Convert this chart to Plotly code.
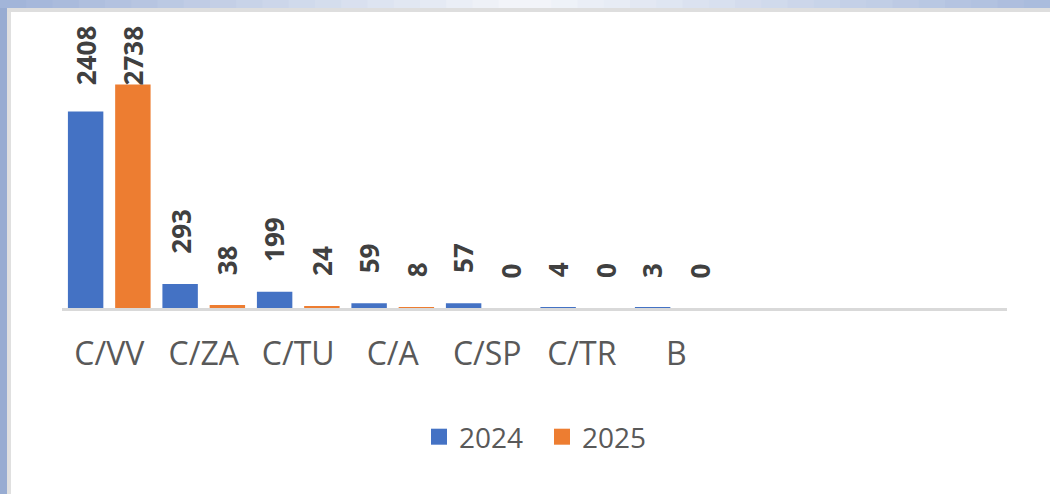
import plotly.graph_objects as go

categories = ["C/VV", "C/ZA", "C/TU", "C/A", "C/SP", "C/TR", "B"]
values_2024 = [2408, 293, 199, 59, 57, 4, 3]
values_2025 = [2738, 38, 24, 8, 0, 0, 0]
series_names = ["2024", "2025"]
n_slots = 10  # axis has room for 10 category slots, only 7 are filled

W, H = 1050, 494
ML, MR, MT, MB = 62, 43, 20, 186
PLOT_H = H - MT - MB
YMAX = 3530
PX_PER_UNIT = PLOT_H / YMAX

BLUE = "#4472C4"
ORANGE = "#ED7D31"
FONT = "Open Sans"

fig = go.Figure()
for name, vals, col in [(series_names[0], values_2024, BLUE), (series_names[1], values_2025, ORANGE)]:
    fig.add_trace(go.Bar(x=categories, y=vals, name=name, showlegend=False,
                         marker=dict(color=col, line=dict(width=0))))
# legend entries with larger square swatches
for name, col in [(series_names[0], BLUE), (series_names[1], ORANGE)]:
    fig.add_trace(go.Scatter(x=[None], y=[None], mode="markers", name=name,
                             marker=dict(symbol="square", size=16, color=col)))

# data labels (rotated), placed above each bar
annotations = []
for j, vals in enumerate([values_2024, values_2025]):
    off = -0.25 if j == 0 else 0.25
    for i, v in enumerate(vals):
        txt = str(v)
        bar_top_px = MT + PLOT_H - v * PX_PER_UNIT
        label_len = 15.5 * len(txt)
        shift = min(28, bar_top_px - 25 - label_len)
        annotations.append(dict(
            x=i + off, y=v, xref="x", yref="y", text=txt, showarrow=False,
            textangle=-90, yanchor="bottom", xanchor="center", yshift=shift,
            font=dict(family=FONT, size=26, color="#404040", weight="bold"),
        ))

# window frame decoration (top gradient band and left strip)
def px_x(p):
    return (p - ML) / (W - ML - MR)

def px_y(p):
    return (MT + PLOT_H - p) / PLOT_H

shapes = []
left_c = (160, 179, 216)
mid_c = (244, 246, 250)
right_c = (168, 186, 220)
nseg = 40
for s in range(nseg):
    t = (s + 0.5) / nseg
    if t < 0.5:
        u = t / 0.5
        c = [round(left_c[k] + (mid_c[k] - left_c[k]) * u) for k in range(3)]
    else:
        u = (t - 0.5) / 0.5
        c = [round(mid_c[k] + (right_c[k] - mid_c[k]) * u) for k in range(3)]
    shapes.append(dict(type="rect", xref="paper", yref="paper",
                       x0=px_x(W * s / nseg), x1=px_x(W * (s + 1) / nseg + 1),
                       y0=px_y(0), y1=px_y(8), line=dict(width=0),
                       fillcolor="rgb(%d,%d,%d)" % tuple(c), layer="below"))
shapes.append(dict(type="rect", xref="paper", yref="paper", x0=px_x(0), x1=px_x(W),
                   y0=px_y(8), y1=px_y(12), line=dict(width=0), fillcolor="#dedede", layer="below"))
shapes.append(dict(type="rect", xref="paper", yref="paper", x0=px_x(0), x1=px_x(7),
                   y0=px_y(8), y1=px_y(H), line=dict(width=0), fillcolor="#98acd2", layer="below"))
shapes.append(dict(type="rect", xref="paper", yref="paper", x0=px_x(7), x1=px_x(11),
                   y0=px_y(12), y1=px_y(H), line=dict(width=0), fillcolor="#e0e0e0", layer="below"))

fig.update_layout(
    width=W, height=H,
    margin=dict(l=ML, r=MR, t=MT, b=MB, pad=0),
    paper_bgcolor="white", plot_bgcolor="white",
    barmode="group", bargap=0.0, bargroupgap=0.25,
    font=dict(family=FONT, color="#595959"),
    showlegend=True,
    legend=dict(orientation="h", x=px_x(542), xanchor="center", y=px_y(437), yanchor="middle",
                font=dict(family=FONT, size=28, color="#595959"), itemwidth=30,
                entrywidth=78, entrywidthmode="pixels",
                itemsizing="trace", bgcolor="rgba(0,0,0,0)"),
    xaxis=dict(type="category", range=[-0.5, n_slots - 0.5], showline=True, linecolor="#d9d9d9",
               linewidth=3, showgrid=False, ticks="", ticklabelstandoff=16,
               tickfont=dict(family=FONT, size=32, color="#595959"), fixedrange=True),
    yaxis=dict(range=[0, YMAX], visible=False, showgrid=False, zeroline=False, fixedrange=True),
    annotations=annotations,
    shapes=shapes,
)

fig.write_html("out.html", config={"displayModeBar": False},
               post_script="document.body.style.margin='0';document.body.style.overflow='hidden';")
